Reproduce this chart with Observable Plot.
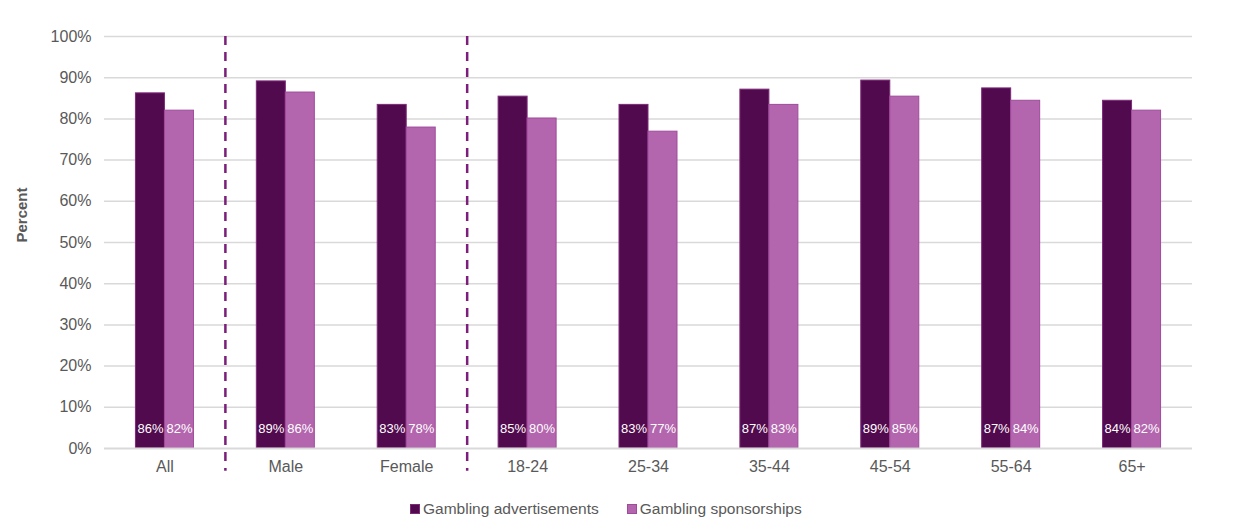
<!DOCTYPE html>
<html>
<head>
<meta charset="utf-8">
<script src="https://cdn.jsdelivr.net/npm/d3@7"></script>
<script src="https://cdn.jsdelivr.net/npm/@observablehq/plot@0.6"></script>
<style>
  body { margin: 0; background: #fff; font-family: "Liberation Sans", Arial, sans-serif; }
  #wrap { position: relative; width: 1259px; height: 531px; }
  #legend { position: absolute; left: 410px; top: 500px; display: flex; gap: 28px; font-size: 15.5px; color: #595959; }
  #legend span.item { display: flex; align-items: center; }
  #legend span.sw { display: inline-block; width: 10px; height: 10px; margin-right: 3px; }
</style>
</head>
<body>
<div id="wrap"><div id="chart"></div><div id="legend"></div></div>
<script>
const categories = ["All", "Male", "Female", "18-24", "25-34", "35-44", "45-54", "55-64", "65+"];
const seriesNames = ["Gambling advertisements", "Gambling sponsorships"];
const advertisements = [86.2, 89.1, 83.4, 85.4, 83.4, 87.1, 89.3, 87.4, 84.4];
const sponsorships = [82.0, 86.4, 77.9, 80.1, 76.9, 83.4, 85.4, 84.4, 82.0];
const dividers = ["Male", "18-24"];
const yTicks = [0, 10, 20, 30, 40, 50, 60, 70, 80, 90, 100];
const colors = ["#520a4e", "#b366ae"];
const strokeColors = ["#7d2a79", "#a04a9b"];

const adv = categories.map((c, i) => ({category: c, value: advertisements[i]}));
const spo = categories.map((c, i) => ({category: c, value: sponsorships[i]}));

const bandW = 1088 / categories.length;
const barW = 29;
const outer = bandW / 2 - barW;
const inner = bandW / 2;

const chart = Plot.plot({
  width: 1259,
  height: 482,
  marginLeft: 104,
  marginRight: 67,
  marginTop: 36,
  marginBottom: 34,
  style: {fontFamily: "Liberation Sans, Arial, sans-serif", fontSize: "16px", color: "#595959", background: "#fff"},
  x: {domain: categories, padding: 0, round: false, label: null, tickSize: 0, tickPadding: 12},
  y: {domain: [0, 100], ticks: yTicks, tickFormat: d => d + "%", label: null, tickSize: 0, tickPadding: 13},
  marks: [
    Plot.gridY(yTicks.filter(d => d > 0), {stroke: "#d9d9d9", strokeOpacity: 1, strokeWidth: 1.5}),
    Plot.barY(adv, {x: "category", y: "value", fill: colors[0], stroke: strokeColors[0], strokeWidth: 1, insetLeft: outer, insetRight: inner}),
    Plot.barY(spo, {x: "category", y: "value", fill: colors[1], stroke: strokeColors[1], strokeWidth: 1, insetLeft: inner, insetRight: outer}),
    Plot.ruleY([0], {stroke: "#d9d9d9", strokeWidth: 2}),
    Plot.text(adv, {x: "category", y: 0, text: d => Math.round(d.value) + "%", dx: -barW / 2, dy: -20, fill: "white", fontSize: 13}),
    Plot.text(spo, {x: "category", y: 0, text: d => Math.round(d.value) + "%", dx: barW / 2, dy: -20, fill: "white", fontSize: 13}),
    Plot.ruleX(dividers, {x: d => d, y1: 100, y2: -5.5, dx: -bandW / 2, stroke: "#7b1f7a", strokeWidth: 2.5, strokeDasharray: "9,7", clip: false}),
    Plot.text(["Percent"], {frameAnchor: "left", dx: -82, rotate: -90, fontWeight: "bold", fontSize: 15, fill: "#595959"})
  ]
});
document.getElementById("chart").appendChild(chart);

const legend = document.getElementById("legend");
seriesNames.forEach((name, i) => {
  const item = document.createElement("span");
  item.className = "item";
  item.innerHTML = `<span class="sw" style="background:${colors[i]};border:1px solid ${strokeColors[i]};box-sizing:border-box"></span>${name}`;
  legend.appendChild(item);
});
</script>
</body>
</html>
